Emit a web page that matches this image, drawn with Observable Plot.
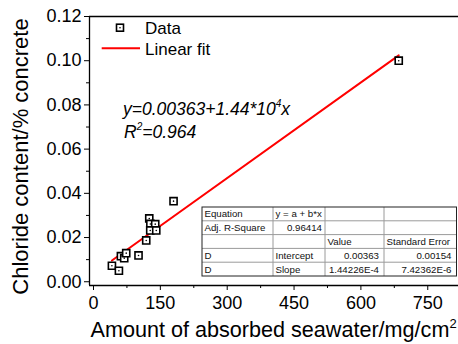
<!DOCTYPE html>
<html>
<head>
<meta charset="utf-8">
<script src="https://cdn.jsdelivr.net/npm/d3@7"></script>
<script src="https://cdn.jsdelivr.net/npm/@observablehq/plot@0.6"></script>
<style>
  html, body { margin: 0; padding: 0; background: #fff; overflow: hidden; }
  #chart { position: relative; width: 458px; height: 344px; overflow: hidden; }
</style>
</head>
<body>
<div id="chart"></div>
<script>
// Measured samples: absorbed seawater (mg/cm²) vs chloride content (% of concrete)
const absorbed = [41.3, 57.0, 61.5, 68.9, 73.4, 101.0, 118.3, 125.1, 127.6, 138.5, 127.3, 140.8, 179.6, 684.9];
const chloride = [0.00724, 0.00498, 0.01158, 0.01068, 0.01294, 0.0119, 0.01869, 0.02864, 0.02614, 0.02606, 0.02321, 0.02321, 0.03647, 0.1000];

// Linear regression results
const fitIntercept = 0.00363;
const fitInterceptErr = 0.00154;
const fitSlope = 1.44226e-4;
const fitSlopeErr = 7.42362e-6;
const adjRSquare = 0.96414;

// Axis ticks
const xTicks = [0, 150, 300, 450, 600, 750];
const xMinor = [75, 225, 375, 525, 675];
const yTicks = [0, 0.02, 0.04, 0.06, 0.08, 0.10, 0.12];
const yMinor = [0.01, 0.03, 0.05, 0.07, 0.09, 0.11];
const xDomain = [-9, 819];
const yDomain = [-0.0017, 0.12];

const points = absorbed.map((x, i) => ({x, y: chloride[i]}));
const xFitMin = d3.min(absorbed), xFitMax = d3.max(absorbed);
const fitLine = [xFitMin, xFitMax].map(x => ({x, y: fitIntercept + fitSlope * x}));

const font = "'Liberation Sans', Arial, sans-serif";

const plot = Plot.plot({
  width: 458,
  height: 344,
  marginLeft: 89,
  marginRight: 0,
  marginTop: 16,
  marginBottom: 59,
  style: {fontFamily: font, fontSize: "18px", color: "#000", background: "#fff"},
  x: {domain: xDomain},
  y: {domain: yDomain},
  marks: [
    Plot.ruleY([yDomain[0]], {stroke: "#000", strokeWidth: 1.3}),
    Plot.ruleY([yDomain[1]], {stroke: "#000", strokeWidth: 1.3}),
    Plot.ruleX([xDomain[0]], {stroke: "#000", strokeWidth: 1.3}),
    Plot.axisX({ticks: xTicks, tickSize: 5, tickPadding: 6, label: null, fontSize: 18}),
    Plot.axisX({ticks: xMinor, tickSize: 3, tickFormat: () => "", label: null}),
    Plot.axisY({ticks: yTicks, tickSize: 5, tickPadding: 3, tickFormat: d3.format(".2f"), label: null, fontSize: 18}),
    Plot.axisY({ticks: yMinor, tickSize: 3, tickFormat: () => "", label: null}),
    Plot.line(fitLine, {x: "x", y: "y", stroke: "#ff0000", strokeWidth: 2}),
    Plot.dot(points, {x: "x", y: "y", symbol: "square", r: 4, stroke: "#000", strokeWidth: 1.6, fill: "#fff"}),
    Plot.dot(points, {x: "x", y: "y", r: 0.8, fill: "#000"})
  ]
});

document.getElementById("chart").appendChild(plot);

const svg = d3.select(plot);

// Axis titles
const xt = svg.append("text")
  .attr("x", 90.5).attr("y", 337).attr("text-anchor", "start")
  .attr("font-family", font).attr("font-size", 21.6).attr("fill", "#000");
xt.append("tspan").text("Amount of absorbed seawater/mg/cm");
xt.append("tspan").attr("font-size", 13).attr("dy", -9).text("2");

svg.append("text")
  .attr("transform", "translate(28,156.5) rotate(-90)")
  .attr("text-anchor", "middle")
  .attr("font-family", font).attr("font-size", 22).attr("fill", "#000")
  .text("Chloride content/% concrete");

// Legend
const lg = svg.append("g").attr("font-family", font).attr("font-size", 17)
  .attr("fill", "#000").attr("text-anchor", "start");
lg.append("rect").attr("x", 116.5).attr("y", 24.2).attr("width", 7).attr("height", 7)
  .attr("fill", "#fff").attr("stroke", "#000").attr("stroke-width", 1.6);
lg.append("circle").attr("cx", 120).attr("cy", 27.7).attr("r", 0.8).attr("fill", "#000");
lg.append("text").attr("x", 145).attr("y", 33.5).text("Data");
lg.append("line").attr("x1", 101.7).attr("x2", 140).attr("y1", 48.3).attr("y2", 48.3)
  .attr("stroke", "#ff0000").attr("stroke-width", 2);
lg.append("text").attr("x", 145).attr("y", 55).text("Linear fit");

// Regression equation
const eq = svg.append("g").attr("font-family", font).attr("font-size", 17.5)
  .attr("font-style", "italic").attr("fill", "#000").attr("text-anchor", "start");
const e1 = eq.append("text").attr("x", 123).attr("y", 115);
e1.append("tspan").text(`y=${fitIntercept}+1.44*10`);
e1.append("tspan").attr("font-size", 10).attr("dy", -8).text("4");
e1.append("tspan").attr("dy", 8).text("x");
const e2 = eq.append("text").attr("x", 124).attr("y", 138);
e2.append("tspan").text("R");
e2.append("tspan").attr("font-size", 10).attr("dy", -8).text("2");
e2.append("tspan").attr("dy", 8).text(`=${adjRSquare.toFixed(3)}`);

// Fit statistics table
const cols = [202, 273, 325, 384, 456.5];
const tableTop = 207, rowH = 13.8;
const rows = [
  [["Equation", "l"], ["y = a + b*x", "l"], ["", "l"], ["", "l"]],
  [["Adj. R-Square", "l"], [String(adjRSquare), "r"], ["", "l"], ["", "l"]],
  [["", "l"], ["", "l"], ["Value", "l"], ["Standard Error", "l"]],
  [["D", "l"], ["Intercept", "l"], [String(fitIntercept), "r"], [String(fitInterceptErr), "r"]],
  [["D", "l"], ["Slope", "l"], ["1.44226E-4", "r"], ["7.42362E-6", "r"]]
];
const tb = svg.append("g").attr("font-family", font).attr("font-size", 9.7).attr("fill", "#111");
tb.append("rect").attr("x", cols[0]).attr("y", tableTop)
  .attr("width", cols[4] - cols[0]).attr("height", rowH * rows.length)
  .attr("fill", "#fff").attr("stroke", "none");
for (let r = 1; r < rows.length; r++) {
  tb.append("line").attr("x1", cols[0]).attr("x2", cols[4])
    .attr("y1", tableTop + r * rowH).attr("y2", tableTop + r * rowH)
    .attr("stroke", "#9a9a9a").attr("stroke-width", 1);
}
for (let c = 1; c < 4; c++) {
  tb.append("line").attr("x1", cols[c]).attr("x2", cols[c])
    .attr("y1", tableTop).attr("y2", tableTop + rowH * rows.length)
    .attr("stroke", "#9a9a9a").attr("stroke-width", 1);
}
tb.append("rect").attr("x", cols[0]).attr("y", tableTop)
  .attr("width", cols[4] - cols[0]).attr("height", rowH * rows.length)
  .attr("fill", "none").attr("stroke", "#222").attr("stroke-width", 1);
rows.forEach((row, r) => {
  row.forEach(([txt, al], c) => {
    if (!txt) return;
    const pad = c === 1 ? 3 : 5;
    tb.append("text")
      .attr("x", al === "l" ? cols[c] + 2.5 : cols[c + 1] - pad)
      .attr("y", tableTop + r * rowH + rowH / 2 + 3.4)
      .attr("text-anchor", al === "l" ? "start" : "end")
      .text(txt);
  });
});
</script>
</body>
</html>
